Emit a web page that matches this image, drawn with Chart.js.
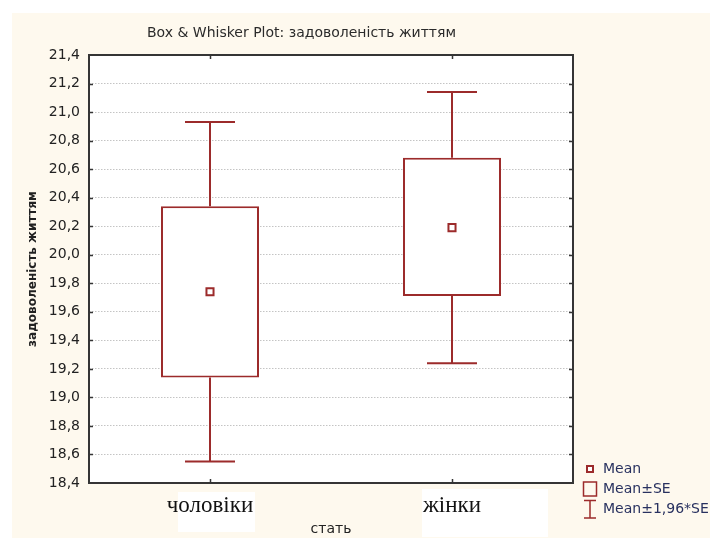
<!DOCTYPE html>
<html><head><meta charset="utf-8">
<script src="https://cdn.jsdelivr.net/npm/chart.js@4"></script>
<style>html,body{margin:0;padding:0;background:#fff;} canvas{display:block;}</style>
</head><body>
<canvas id="c" width="710" height="538"></canvas>
<script>
const categories = ['чоловіки', 'жінки'];
const meanValues = [19.74, 20.19];
const seLower = [19.14, 19.71];
const seUpper = [20.34, 20.68];
const ciLower = [18.55, 19.24];
const ciUpper = [20.93, 21.14];
const yMin = 18.4, yMax = 21.4, yStep = 0.2;
const legendLabels = ['Mean', 'Mean±SE', 'Mean±1,96*SE'];
const chartTitle = 'Box & Whisker Plot: задоволеність життям';
const yTitle = 'задоволеність життям';
const xTitle = 'стать';

const RED = '#9c2b2b';
const CREAM = '#fef9ee';
const SANS = '"DejaVu Sans", sans-serif';

const backgroundPlugin = {
  id: 'bg',
  beforeDraw(chart) {
    const {ctx, chartArea: a, scales} = chart;
    ctx.save();
    ctx.fillStyle = '#ffffff';
    ctx.fillRect(0, 0, chart.width, chart.height);
    ctx.fillStyle = CREAM;
    ctx.fillRect(12, 13, chart.width - 12, chart.height - 13);
    ctx.fillStyle = '#ffffff';
    ctx.fillRect(a.left, a.top, a.right - a.left, a.bottom - a.top);
    // white boxes behind category labels
    const boxes = [[-32, 45, 9, 49], [-30, 96, 6, 54]];
    categories.forEach((c, i) => {
      const x = scales.x.getPixelForValue(i);
      const b = boxes[i];
      ctx.fillRect(x + b[0], a.bottom + b[2], b[1] - b[0], b[3] - b[2]);
    });
    ctx.restore();
  }
};

const whiskerPlugin = {
  id: 'whiskers',
  beforeDatasetsDraw(chart) {
    const {ctx, scales: {x, y}} = chart;
    ctx.save();
    ctx.strokeStyle = RED;
    ctx.lineWidth = 2;
    categories.forEach((c, i) => {
      const px = x.getPixelForValue(i);
      const yHi = y.getPixelForValue(ciUpper[i]);
      const yLo = y.getPixelForValue(ciLower[i]);
      const bHi = y.getPixelForValue(seUpper[i]);
      const bLo = y.getPixelForValue(seLower[i]);
      ctx.beginPath();
      ctx.moveTo(px, yHi); ctx.lineTo(px, bHi);
      ctx.moveTo(px, bLo); ctx.lineTo(px, yLo);
      ctx.moveTo(px - 25, yHi); ctx.lineTo(px + 25, yHi);
      ctx.moveTo(px - 25, yLo); ctx.lineTo(px + 25, yLo);
      ctx.stroke();
    });
    ctx.restore();
  }
};

const decorPlugin = {
  id: 'decor',
  afterDraw(chart) {
    const {ctx, chartArea: a, scales: {x, y}} = chart;
    ctx.save();
    // frame
    ctx.strokeStyle = '#353535';
    ctx.lineWidth = 2;
    ctx.strokeRect(a.left, a.top, a.right - a.left, a.bottom - a.top);
    // inner ticks
    ctx.lineWidth = 1.5;
    ctx.beginPath();
    y.ticks.forEach(t => {
      if (t.value <= yMin + 1e-9 || t.value >= yMax - 1e-9) return;
      const py = Math.round(y.getPixelForValue(t.value)) + 0.5;
      ctx.moveTo(a.left, py); ctx.lineTo(a.left + 4, py);
      ctx.moveTo(a.right - 4, py); ctx.lineTo(a.right, py);
    });
    categories.forEach((c, i) => {
      const px = Math.round(x.getPixelForValue(i)) + 0.5;
      ctx.moveTo(px, a.top); ctx.lineTo(px, a.top + 4);
      ctx.moveTo(px, a.bottom - 4); ctx.lineTo(px, a.bottom);
    });
    ctx.stroke();
    // title
    ctx.fillStyle = '#2b2b2b';
    ctx.font = '14px ' + SANS;
    ctx.textAlign = 'left';
    ctx.textBaseline = 'middle';
    ctx.fillText(chartTitle, a.left + 58, 33.5);
    // legend
    const mx = a.right + 17;
    const tx = a.right + 30;
    const ys = [a.bottom - 14, a.bottom + 6, a.bottom + 26];
    ctx.strokeStyle = RED;
    ctx.lineWidth = 2;
    ctx.fillStyle = '#fff';
    ctx.fillRect(mx - 3, ys[0] - 3, 6, 6);
    ctx.strokeRect(mx - 3, ys[0] - 3, 6, 6);
    ctx.lineWidth = 1.5;
    ctx.strokeRect(mx - 6.5, ys[1] - 7, 13, 14);
    ctx.beginPath();
    ctx.moveTo(mx, ys[2] - 8.5); ctx.lineTo(mx, ys[2] + 9);
    ctx.moveTo(mx - 6, ys[2] - 8.5); ctx.lineTo(mx + 6, ys[2] - 8.5);
    ctx.moveTo(mx - 6, ys[2] + 9); ctx.lineTo(mx + 6, ys[2] + 9);
    ctx.stroke();
    ctx.fillStyle = '#28315f';
    ctx.font = '14px ' + SANS;
    legendLabels.forEach((l, i) => ctx.fillText(l, tx, ys[i]));
    ctx.restore();
  }
};

new Chart(document.getElementById('c'), {
  type: 'bar',
  data: {
    labels: categories,
    datasets: [
      {
        type: 'line', label: legendLabels[0], data: meanValues, showLine: false,
        pointStyle: 'rect', pointRadius: 5, pointBorderWidth: 2,
        pointBorderColor: RED, pointBackgroundColor: '#fff', order: 0
      },
      {
        type: 'bar', label: legendLabels[1],
        data: categories.map((c, i) => [seLower[i], seUpper[i]]),
        backgroundColor: '#fff', borderColor: RED, borderWidth: 2, borderSkipped: false,
        barPercentage: 0.405, categoryPercentage: 1, order: 1
      }
    ]
  },
  options: {
    responsive: false, animation: false, events: [],
    layout: {padding: {left: 0, top: 55, right: 137, bottom: 0}},
    plugins: {legend: {display: false}, title: {display: false}, tooltip: {enabled: false}},
    scales: {
      x: {
        grid: {display: false, drawTicks: false},
        border: {display: false},
        ticks: {font: {family: '"Liberation Serif", "Times New Roman", serif', size: 23}, color: '#111', padding: 9},
        title: {display: true, text: xTitle, font: {family: SANS, size: 14}, color: '#222', padding: {top: 0, bottom: 0}},
        afterFit(s) { s.height = 55; }
      },
      y: {
        min: yMin, max: yMax,
        ticks: {stepSize: yStep, callback: v => Number(v).toFixed(1).replace('.', ','), font: {family: SANS, size: 14}, color: '#222', padding: 9},
        grid: {color: '#c4c4c4', lineWidth: 1, drawTicks: false},
        border: {display: false, dash: [1.5, 1.5]},
        title: {display: true, text: yTitle, font: {family: SANS, size: 12, weight: 'bold'}, color: '#222', padding: {top: 26, bottom: 0}},
        afterFit(s) { s.width = 89; }
      }
    }
  },
  plugins: [backgroundPlugin, whiskerPlugin, decorPlugin]
});
</script>
</body></html>
